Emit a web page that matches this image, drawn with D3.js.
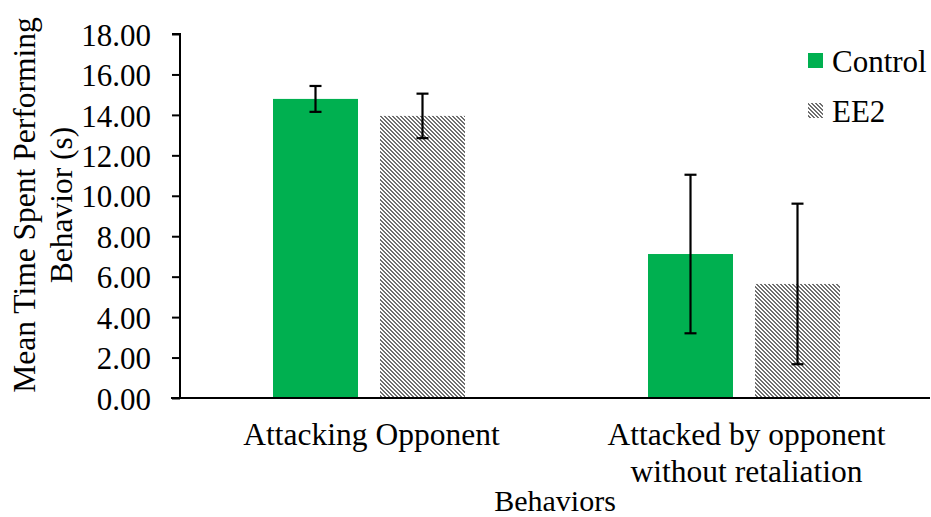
<!DOCTYPE html>
<html>
<head>
<meta charset="utf-8">
<script src="https://cdn.jsdelivr.net/npm/d3@7"></script>
<style>
  html, body { margin: 0; padding: 0; background: #fff; }
  svg { display: block; }
</style>
</head>
<body>
<svg id="chart" width="931" height="517"></svg>
<script>
// Behaviour categories (multi-line labels) and series
const categories = ["Attacking Opponent", "Attacked by opponent\nwithout retaliation"];
const seriesNames = ["Control", "EE2"];
const controlMeans = [14.79, 7.12];
const controlErr = [0.64, 3.92];
const ee2Means = [13.95, 5.64];
const ee2Err = [1.1, 3.97];
const yTicks = [0, 2, 4, 6, 8, 10, 12, 14, 16, 18];

const FONT = "'Liberation Serif', 'Times New Roman', Times, 'DejaVu Serif', serif";

const svg = d3.select("#chart");
const W = 931, H = 517;
const margin = { left: 180, right: 1, top: 34, bottom: 119 };

// Pixel-aligned downward diagonal hatch for the EE2 series
const tile = 4, dark = 2;
const defs = svg.append("defs");
const pat = defs.append("pattern")
  .attr("id", "hatch")
  .attr("patternUnits", "userSpaceOnUse")
  .attr("width", tile).attr("height", tile);
pat.append("rect").attr("width", tile).attr("height", tile).attr("fill", "#fff");
const cells = [];
for (let r = 0; r < tile; r++) for (let k = 0; k < dark; k++) cells.push({ x: (r + k) % tile, y: r });
pat.selectAll("rect.px").data(cells).join("rect").attr("class", "px")
  .attr("x", d => d.x).attr("y", d => d.y).attr("width", 1).attr("height", 1)
  .attr("fill", "#6f6f6f").attr("shape-rendering", "crispEdges");

const x0 = d3.scaleBand()
  .domain(d3.range(categories.length))
  .range([margin.left, W - margin.right])
  .paddingInner(0).paddingOuter(0);

const y = d3.scaleLinear().domain([0, 18]).range([H - margin.bottom, margin.top]);

const barW = 85, gap = 22;
const series = [
  { name: seriesNames[0], means: controlMeans, errs: controlErr, fill: "#00B050" },
  { name: seriesNames[1], means: ee2Means, errs: ee2Err, fill: "url(#hatch)" }
];
const x1 = d3.scaleBand().domain(seriesNames).range([0, barW * 2 + gap]).paddingInner(gap / (barW + gap)).paddingOuter(0);
const groupLeft = i => Math.round(x0(i) + x0.bandwidth() / 2 - (barW * 2 + gap) / 2 + 1);

// Y axis
const yAxis = d3.axisLeft(y).tickValues(yTicks).tickSize(8).tickPadding(21)
  .tickFormat(d3.format(".2f"));
const gy = svg.append("g").attr("transform", `translate(${margin.left},0)`).call(yAxis)
  .attr("font-family", null).attr("font-size", null);
gy.select(".domain").attr("stroke", "#000").attr("stroke-width", 2).attr("d", `M-8,${y(18)}H0V${y(0)}`);
gy.selectAll(".tick line").attr("stroke", "#000").attr("stroke-width", 2);
gy.selectAll(".tick text").style("font-size", "31px").style("font-family", FONT)
  .attr("fill", "#000").attr("dy", "0.36em");

// Bars
series.forEach(s => {
  const g = svg.append("g");
  categories.forEach((c, i) => {
    const bx = groupLeft(i) + x1(s.name);
    g.append("rect")
      .attr("x", bx).attr("width", x1.bandwidth())
      .attr("y", y(s.means[i])).attr("height", y(0) - y(s.means[i]))
      .attr("fill", s.fill);
  });
});

// Error bars drawn above all bars
series.forEach(s => {
  categories.forEach((c, i) => {
    const mx = groupLeft(i) + x1(s.name) + x1.bandwidth() / 2;
    const hi = y(s.means[i] + s.errs[i]);
    const lo = y(s.means[i] - s.errs[i]);
    const g = svg.append("g").attr("stroke", "#000").attr("stroke-width", 2.2);
    g.append("line").attr("x1", mx).attr("x2", mx).attr("y1", hi).attr("y2", lo);
    g.append("line").attr("x1", mx - 6).attr("x2", mx + 6).attr("y1", hi).attr("y2", hi);
    g.append("line").attr("x1", mx - 6).attr("x2", mx + 6).attr("y1", lo).attr("y2", lo);
  });
});

// X axis baseline
svg.append("line")
  .attr("x1", margin.left - 9).attr("x2", W - margin.right)
  .attr("y1", y(0)).attr("y2", y(0))
  .attr("stroke", "#000").attr("stroke-width", 2.2);

// Category labels
categories.forEach((c, i) => {
  const cx = x0(i) + x0.bandwidth() / 2 + 4;
  const t = svg.append("text").attr("text-anchor", "middle")
    .style("font-size", "31.5px").style("font-family", FONT);
  c.split("\n").forEach((line, k) => {
    t.append("tspan").attr("x", cx).attr("y", 445 + k * 36.5).text(line);
  });
});

// Axis titles
svg.append("text").attr("x", 555).attr("y", 511).attr("text-anchor", "middle")
  .style("font-size", "30px").style("font-family", FONT).text("Behaviors");

const yt = svg.append("text").attr("transform", `translate(0,205) rotate(-90)`)
  .attr("text-anchor", "middle").style("font-size", "31.5px").style("font-family", FONT);
yt.append("tspan").attr("x", 0).attr("y", 35).text("Mean Time Spent Performing");
yt.append("tspan").attr("x", 0).attr("y", 72).text("Behavior (s)");

// Legend
const legend = svg.append("g");
series.forEach((s, i) => {
  const ly = 72 + i * 49.5;
  legend.append("rect").attr("x", 808).attr("y", Math.round(ly - 19)).attr("width", 15).attr("height", 15).attr("fill", s.fill);
  legend.append("text").attr("x", 832).attr("y", ly)
    .style("font-size", "31px").style("font-family", FONT).text(s.name);
});
</script>
</body>
</html>
